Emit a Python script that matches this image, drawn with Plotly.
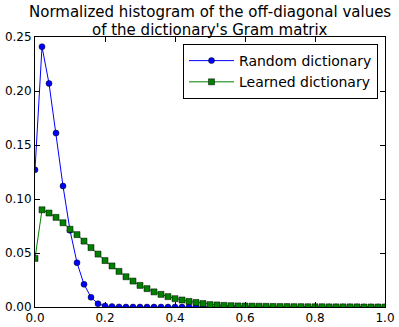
import plotly.graph_objects as go

# bin centres of the histogram
x = [0.00, 0.02, 0.04, 0.06, 0.08, 0.10, 0.12, 0.14, 0.16, 0.18,
     0.20, 0.22, 0.24, 0.26, 0.28, 0.30, 0.32, 0.34, 0.36, 0.38,
     0.40, 0.42, 0.44, 0.46, 0.48, 0.50, 0.52, 0.54, 0.56, 0.58,
     0.60, 0.62, 0.64, 0.66, 0.68, 0.70, 0.72, 0.74, 0.76, 0.78,
     0.80, 0.82, 0.84, 0.86, 0.88, 0.90, 0.92, 0.94, 0.96, 0.98, 1.00]

random_dict = [0.127, 0.241, 0.207, 0.161, 0.112, 0.071, 0.041, 0.021, 0.009, 0.003,
               0.001, 0.0004, 0.0001, 0, 0, 0, 0, 0, 0, 0,
               0, 0, 0, 0, 0, 0, 0, 0, 0, 0,
               0, 0, 0, 0, 0, 0, 0, 0, 0, 0,
               0, 0, 0, 0, 0, 0, 0, 0, 0, 0, 0]

learned_dict = [0.045, 0.090, 0.087, 0.083, 0.078, 0.072, 0.067, 0.061, 0.055, 0.049,
                0.043, 0.038, 0.033, 0.028, 0.024, 0.020, 0.017, 0.014, 0.0117, 0.0096,
                0.0077, 0.0065, 0.0052, 0.0042, 0.0032, 0.0022, 0.0019, 0.0015, 0.0012, 0.0010,
                0.0009, 0.0008, 0.0007, 0.0006, 0.0005, 0.0004, 0.0004, 0.0003, 0.0003, 0.0002,
                0.0002, 0.0002, 0.0001, 0.0001, 0.0001, 0.0001, 0.0001, 0, 0, 0, 0]

title_lines = ["Normalized histogram of the off-diagonal values",
               "of the dictionary's Gram matrix"]

font = "DejaVu Sans"

fig = go.Figure()
fig.add_trace(go.Scatter(x=x, y=random_dict, mode="lines+markers", name="Random dictionary",
                         line=dict(color="#0000ff", width=1),
                         marker=dict(symbol="circle", size=6, color="#0000ff",
                                     line=dict(color="black", width=0.5))))
fig.add_trace(go.Scatter(x=x, y=learned_dict, mode="lines+markers", name="Learned dictionary",
                         line=dict(color="#008000", width=1),
                         marker=dict(symbol="square", size=6, color="#008000",
                                     line=dict(color="black", width=0.5))))

axis = dict(showline=True, linecolor="black", linewidth=1, mirror="ticks",
            ticks="inside", ticklen=5, tickcolor="black", showgrid=False,
            zeroline=False, automargin=False,
            tickfont=dict(family=font, size=12, color="black"))

fig.update_layout(
    width=399, height=327,
    margin=dict(l=35, r=14, t=37, b=20),
    paper_bgcolor="white", plot_bgcolor="white",
    font=dict(family=font, color="black"),
    xaxis=dict(range=[0, 1], tickvals=[0, 0.2, 0.4, 0.6, 0.8, 1.0],
               ticktext=["0.0", "0.2", "0.4", "0.6", "0.8", "1.0"], **axis),
    yaxis=dict(range=[0, 0.25], tickvals=[0, 0.05, 0.10, 0.15, 0.20, 0.25],
               ticktext=["0.00", "0.05", "0.10", "0.15", "0.20", "0.25"], **axis),
    legend=dict(x=0.98, y=0.974, xanchor="right", yanchor="top",
                bordercolor="black", borderwidth=1, bgcolor="white",
                font=dict(family=font, size=14, color="black"),
                itemwidth=45, tracegroupgap=0),
    showlegend=True,
)

# two-line title, one annotation per line to control the spacing
for line, shift in zip(title_lines, [25.5, 7.5]):
    fig.add_annotation(text=line, xref="paper", yref="paper", x=0.5, y=1,
                       xanchor="center", yanchor="middle", yshift=shift,
                       showarrow=False, font=dict(family=font, size=15, color="black"))

# drop the browser's default page margin so the figure sits at the top-left corner
fig.write_html("out.html", config={"displayModeBar": False},
               post_script="document.body.style.margin = '0';")
